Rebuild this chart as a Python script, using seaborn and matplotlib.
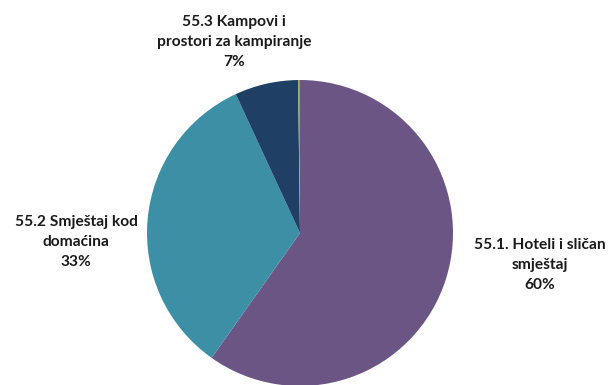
import matplotlib
matplotlib.use("Agg")
import matplotlib.pyplot as plt
import seaborn as sns

sns.set_theme(style="white")
plt.rcParams["font.family"] = ["Lato", "DejaVu Sans"]

# Accommodation categories and their shares (%)
categories = [
    "55.1. Hoteli i sličan\nsmještaj",
    "55.2 Smještaj kod\ndomaćina",
    "55.3 Kampovi i\nprostori za kampiranje",
    "55.9 Ostali smještaj",
]
shares = [59.8, 33.3, 6.7, 0.2]
colors = ["#6b5585", "#3c8fa5", "#1f3f65", "#8fa855"]
show_label = [True, True, True, False]

fig = plt.figure(figsize=(6.08, 3.85), dpi=100)
# Pie centred near (300, 233) px with radius ~153 px
ax = fig.add_axes([147 / 608, (152 - 153) / 385, 306 / 608, 306 / 385])
ax.pie(shares, colors=colors, startangle=90, counterclock=False,
       radius=1.0, wedgeprops=dict(linewidth=0))
ax.set_xlim(-1, 1)
ax.set_ylim(-1, 1)
ax.set_aspect("equal")
ax.axis("off")

# Label anchor positions in pixels (x, y from top)
label_pos = [(540, 265), (76, 242), (234, 42), None]
for cat, val, pos, show in zip(categories, shares, label_pos, show_label):
    if not show:
        continue
    txt = f"{cat}\n{round(val):d}%"
    fig.text(pos[0] / 608, 1 - pos[1] / 385, txt, ha="center", va="center",
             fontsize=11.2, fontweight="bold", color="#1a1a1a", linespacing=1.55)

fig.savefig("out.png", dpi=100)
